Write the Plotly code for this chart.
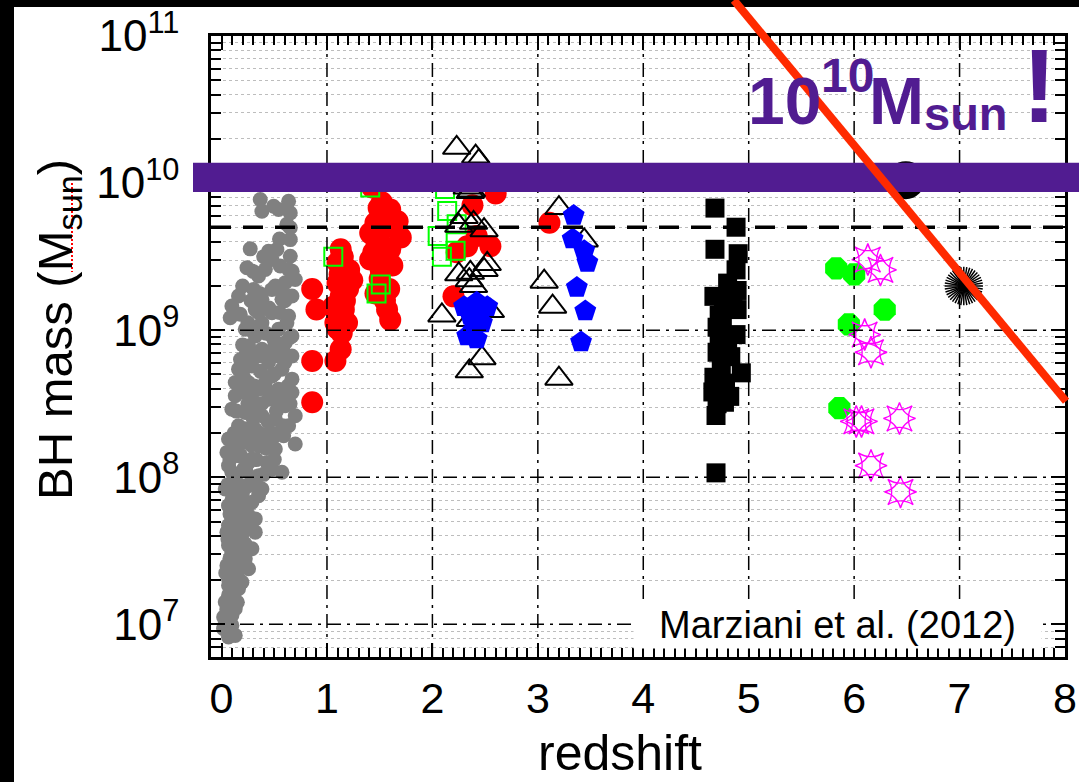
import numpy as np
import plotly.graph_objects as go

# ---------------- data (redshift, log10 BH mass) ----------------
gray_z = [0.367, 0.383, 0.494, 0.636, 0.652, 0.541, 0.652, 0.652, 0.272, 0.241, 0.446, 0.525, 0.652, 0.478,
          0.557, 0.351, 0.699, 0.636, 0.415, 0.161, 0.098, 0.177, 0.082, 0.304, 0.51, 0.604, 0.383, 0.573,
          0.668, 0.32, 0.478, 0.636, 0.383, 0.541, 0.668, 0.32, 0.225, 0.383, 0.51, 0.668, 0.288, 0.161,
          0.446, 0.573, 0.668, 0.13, 0.253, 0.415, 0.541, 0.668, 0.13, 0.288, 0.446, 0.604, 0.699, 0.098,
          0.225, 0.383, 0.51, 0.161, 0.32, 0.465, 0.589, 0.699, 0.066, 0.193, 0.351, 0.51, 0.051, 0.161,
          0.288, 0.43, 0.573, 0.066, 0.209, 0.351, 0.13, 0.256, 0.035, 0.383, 0.161, 0.288, 0.066, 0.193,
          0.32, 0.098, 0.225, 0.051, 0.161, 0.288, 0.098, 0.225, 0.051, 0.146, 0.193, 0.066, 0.114, 0.035,
          0.13, 0.051, 0.098, 0.019, 0.13, 0.066,
          0.478, 0.225, 0.478, 0.604, 0.256, 0.351, 0.541, 0.193, 0.478, 0.351, 0.225, 0.541, 0.32, 0.636,
          0.256, 0.415, 0.13, 0.256, 0.478, 0.098, 0.288, 0.193, 0.098, 0.351, 0.225, 0.13, 0.256, 0.161,
          0.066, 0.32, 0.13, 0.225, 0.066, 0.161, 0.098, 0.256, 0.066, 0.161, 0.066, 0.098, 0.035,
          0.20, 0.28, 0.36, 0.45, 0.55, 0.62, 0.25, 0.33, 0.42, 0.50, 0.58, 0.65, 0.20, 0.29, 0.46, 0.60,
          0.18, 0.37, 0.50, 0.63, 0.21, 0.31, 0.45, 0.57, 0.17, 0.25, 0.38, 0.52, 0.65, 0.14, 0.30, 0.44,
          0.58, 0.22, 0.36, 0.50, 0.12, 0.28, 0.42, 0.18, 0.33, 0.50, 0.08, 0.23, 0.40, 0.12, 0.30, 0.20,
          0.06, 0.24, 0.10, 0.28, 0.19, 0.08, 0.22, 0.06, 0.19, 0.08, 0.17, 0.04, 0.08, 0.15, 0.05, 0.09,
          0.02, 0.60, 0.67, 0.40, 0.30, 0.55, 0.62, 0.58, 0.35]
gray_logm = [9.888, 9.809, 9.843, 9.876, 9.797, 9.82, 9.696, 9.616, 9.553, 9.424, 9.537, 9.549, 9.503, 9.481,
             9.436, 9.368, 9.345, 9.413, 9.413, 9.232, 9.164, 9.108, 9.085, 9.277, 9.3, 9.322, 9.21, 9.21,
             9.232, 9.14, 9.119, 9.096, 9.051, 9.006, 8.96, 8.96, 8.825, 8.87, 8.893, 8.825, 8.757, 8.735,
             8.78, 8.735, 8.667, 8.644, 8.644, 8.644, 8.599, 8.576, 8.554, 8.531, 8.531, 8.486, 8.418, 8.463,
             8.441, 8.418, 8.395, 8.35, 8.327, 8.305, 8.282, 8.226, 8.26, 8.237, 8.214, 8.192, 8.169, 8.147,
             8.124, 8.101, 8.034, 8.079, 8.056, 8.011, 7.988, 7.943, 7.92, 7.92, 7.875, 7.83, 7.807, 7.762,
             7.717, 7.717, 7.649, 7.627, 7.559, 7.514, 7.491, 7.446, 7.401, 7.355, 7.287, 7.265, 7.197, 7.152,
             7.106, 7.061, 6.993, 6.971, 6.925, 6.914,
             9.277, 9.006, 8.96, 8.915, 8.893, 8.825, 8.825, 8.757, 8.689, 8.599, 8.576, 8.508, 8.463, 8.35,
             8.282, 8.237, 8.192, 8.101, 8.056, 8.034, 7.988, 7.943, 7.898, 7.875, 7.83, 7.785, 7.74, 7.694,
             7.672, 7.627, 7.604, 7.536, 7.536, 7.468, 7.401, 7.378, 7.31, 7.242, 7.197, 7.061, 7.016,
             9.30, 9.20, 9.25, 9.15, 9.12, 9.05, 9.05, 9.00, 8.98, 8.93, 8.88, 8.95, 8.90, 8.85, 8.85, 8.78,
             8.80, 8.72, 8.70, 8.62, 8.68, 8.62, 8.58, 8.55, 8.58, 8.50, 8.50, 8.45, 8.50, 8.45, 8.40, 8.38,
             8.35, 8.33, 8.30, 8.28, 8.30, 8.22, 8.20, 8.15, 8.12, 8.12, 8.12, 8.05, 8.02, 7.98, 7.95, 7.90,
             7.95, 7.80, 7.85, 7.68, 7.60, 7.75, 7.55, 7.58, 7.42, 7.45, 7.30, 7.35, 7.22, 7.15, 7.10, 6.95,
             7.05, 9.20, 9.40, 9.50, 9.40, 9.62, 9.72, 9.25, 9.12]

red_z = [0.86, 0.90, 0.86, 0.86, 1.13, 1.10, 1.21, 1.24, 1.10, 1.13, 1.06, 1.16, 1.19, 1.10, 1.13, 1.08,
         1.15, 1.20, 1.12, 1.17, 1.08, 1.14,
         1.49, 1.60, 1.46, 1.67, 1.70, 1.41, 1.51, 1.44, 1.60, 1.41, 1.62, 1.51, 1.59, 1.46, 1.57, 1.60, 1.43,
         1.55, 1.47, 1.56, 1.50, 1.55, 1.52,
         2.38, 2.60, 2.42, 2.55, 2.33, 2.23, 2.20, 3.11]
red_logm = [9.28, 9.14, 8.79, 8.51, 9.55, 9.46, 9.41, 9.34, 9.32, 9.23, 9.16, 9.14, 9.05, 9.01, 8.87, 8.79,
            9.50, 9.28, 9.38, 9.20, 9.05, 8.98,
            9.83, 9.82, 9.73, 9.74, 9.63, 9.66, 9.59, 9.53, 9.55, 9.48, 9.44, 9.41, 9.28, 9.25, 9.14, 9.07, 9.97,
            9.70, 9.60, 9.45, 9.35, 9.20, 9.87,
            9.85, 9.93, 9.64, 9.57, 9.57, 9.53, 9.23, 9.73]

gsq_z = [1.06, 1.51, 1.47, 1.41, 2.14, 2.23, 2.05, 2.09, 2.22, 2.12]
gsq_logm = [9.50, 9.31, 9.25, 9.97, 9.81, 9.72, 9.64, 9.50, 9.54, 9.96]

tri_z = [2.23, 2.41, 2.44, 2.36, 2.30, 2.39, 2.25, 2.49, 2.52, 2.49, 2.25, 2.36, 2.35, 2.39, 2.55, 2.09,
         2.36, 2.47, 2.35, 3.06, 3.14, 3.20, 3.20, 3.44, 2.33, 2.37]
tri_logm = [10.24, 10.18, 10.15, 9.94, 9.77, 9.73, 9.71, 9.68, 9.45, 9.41, 9.38, 9.39, 9.34, 9.30, 9.13, 9.10,
            9.07, 8.81, 8.72, 9.33, 9.16, 8.67, 9.83, 9.61, 9.97, 9.95]

blue_z = [2.30, 2.42, 2.52, 2.36, 2.47, 2.39, 2.33, 2.42, 2.38, 2.45, 2.40,
          3.34, 3.33, 3.44, 3.47, 3.37, 3.45, 3.41]
blue_logm = [9.16, 9.19, 9.16, 9.10, 9.05, 9.00, 8.96, 8.94, 9.13, 9.10, 9.04,
             9.78, 9.62, 9.54, 9.46, 9.29, 9.13, 8.92]

bsq_z = [4.68, 4.88, 4.68, 4.90, 4.88, 4.80, 4.67, 4.89, 4.89, 4.72, 4.70, 4.88, 4.72, 4.70, 4.83, 4.93,
         4.67, 4.78, 4.66, 4.77, 4.69, 4.69, 4.75, 4.80, 4.74, 4.72, 4.85, 4.76, 4.70, 4.82]
bsq_logm = [9.83, 9.70, 9.55, 9.52, 9.41, 9.32, 9.23, 9.27, 9.14, 9.10, 9.02, 8.97, 8.96, 8.85, 8.82, 8.71,
            8.68, 8.64, 8.58, 8.51, 8.42, 8.03, 9.05, 8.90, 8.75, 8.62, 9.20, 9.20, 8.50, 8.55]

oct_z = [5.83, 6.00, 6.29, 5.95, 5.86]
oct_logm = [9.42, 9.38, 9.14, 9.04, 8.47]

star_z = [6.13, 6.25, 6.10, 6.16, 6.02, 6.07, 6.43, 6.16, 6.44]
star_logm = [9.48, 9.41, 8.97, 8.85, 8.38, 8.38, 8.40, 8.08, 7.90]

burst_z, burst_logm = [7.04], [9.30]
ring_z, ring_logm = [6.49], [10.02]

limit_line_z = [4.86, 8.01]
limit_line_logm = [11.244, 8.517]

band_logm = [9.94, 10.138]
dashed_logm = 9.699  # 5e9
ref_note = "Marziani et al. (2012)"

x_ticks = [0, 1, 2, 3, 4, 5, 6, 7, 8]
y_decades = [7, 8, 9, 10, 11]

# ---------------- layout geometry ----------------
W, H = 1079, 782
L, R, T, B = 211, 14, 36, 125
PW, PH = W - L - R, H - T - B
XR = [-0.1, 8.0]
YR = [float(np.log10(6e6)), 11.0]
FONT = "Liberation Sans, Arial, sans-serif"
PURPLE = "#511C91"


def pxx(px):
    return (px - L) / PW


def pxy(py):
    return (H - B - py) / PH


def dx(z):
    return (z - XR[0]) / (XR[1] - XR[0])


def dy(lm):
    return (lm - YR[0]) / (YR[1] - YR[0])


def pw(v):
    return [10 ** a for a in v]


fig = go.Figure()


def add(z, lm, symbol, size, color, open_=False, lw=2):
    if open_:
        marker = dict(symbol=symbol, size=size, color=color, line=dict(color=color, width=lw))
    else:
        marker = dict(symbol=symbol, size=size, color=color, line=dict(width=0))
    fig.add_trace(go.Scatter(x=z, y=pw(lm), mode="markers", marker=marker, showlegend=False,
                             hoverinfo="skip", cliponaxis=False))


add(gray_z, gray_logm, "circle", 15, "#808080")
add(red_z, red_logm, "circle", 22, "#FF0000")
add(gsq_z, gsq_logm, "square-open", 18, "#00FF00", True, 2)
add(tri_z, tri_logm, "triangle-up-open", 24, "#000000", True, 2)
add(blue_z, blue_logm, "pentagon", 23, "#0000FF")
add(bsq_z, bsq_logm, "square", 19, "#000000")
add(oct_z, oct_logm, "octagon", 24, "#00FF00")
add(star_z, star_logm, "star-square-open", 23, "#FF00FF", True, 1.3)
add(star_z, star_logm, "star-diamond-open", 23, "#FF00FF", True, 1.3)
for ang in [0, 9, 18, 27, 36]:
    fig.add_trace(go.Scatter(x=burst_z, y=pw(burst_logm), mode="markers", showlegend=False, hoverinfo="skip",
                             marker=dict(symbol="asterisk-open", size=32, angle=ang, color="black",
                                         line=dict(color="black", width=1.5))))
add(ring_z, ring_logm, "circle", 38, "#000000")

# ---------------- shapes ----------------
shapes = []
# black frame bands
shapes.append(dict(type="rect", xref="paper", yref="paper", x0=pxx(0), x1=pxx(14), y0=pxy(H), y1=pxy(0),
                   fillcolor="black", line=dict(width=0), layer="above"))
shapes.append(dict(type="rect", xref="paper", yref="paper", x0=pxx(0), x1=pxx(W), y0=pxy(7), y1=pxy(0),
                   fillcolor="black", line=dict(width=0), layer="above"))
# major dash-dot grid (drawn over markers)
GRID_DASH = "14px,6px,3px,6px"
for xv in x_ticks[1:-1]:
    shapes.append(dict(type="line", xref="paper", yref="paper", x0=dx(xv), x1=dx(xv), y0=0, y1=1,
                       line=dict(color="black", width=1.5, dash=GRID_DASH), layer="above"))
for yv in y_decades[:-1]:
    shapes.append(dict(type="line", xref="paper", yref="paper", x0=0, x1=1, y0=dy(yv), y1=dy(yv),
                       line=dict(color="black", width=1.5, dash=GRID_DASH), layer="above"))
# dashed 5e9 line
shapes.append(dict(type="line", xref="paper", yref="paper", x0=0, x1=1, y0=dy(dashed_logm), y1=dy(dashed_logm),
                   line=dict(color="black", width=3.5, dash="20px,12px"), layer="above"))
# purple 1e10 band
shapes.append(dict(type="rect", xref="paper", yref="paper", x0=pxx(193), x1=pxx(W), y0=dy(band_logm[0]),
                   y1=dy(band_logm[1]), fillcolor=PURPLE, line=dict(width=0), layer="above"))
# red line
shapes.append(dict(type="line", xref="paper", yref="paper", x0=dx(limit_line_z[0]), x1=dx(limit_line_z[1]),
                   y0=dy(limit_line_logm[0]), y1=dy(limit_line_logm[1]),
                   line=dict(color="#FF2A00", width=8), layer="above"))
# red dotted underline under "Msun"
shapes.append(dict(type="line", xref="paper", yref="paper", x0=pxx(72), x1=pxx(72), y0=pxy(183), y1=pxy(272),
                   line=dict(color="#FF0000", width=2, dash="2px,2px"), layer="above"))

# ---------------- annotations ----------------
ann = []
ann.append(dict(text="BH mass (M<sub>sun</sub>)", textangle=-90, xref="paper", yref="paper",
                x=pxx(58), y=pxy(330), xanchor="center", yanchor="middle", showarrow=False,
                font=dict(family=FONT, size=49, color="black")))
ann.append(dict(text="redshift", xref="paper", yref="paper", x=pxx(620), y=pxy(753),
                xanchor="center", yanchor="middle", showarrow=False,
                font=dict(family=FONT, size=50, color="black")))
ann.append(dict(text=ref_note, xref="paper", yref="paper", x=pxx(837), y=pxy(625),
                xanchor="center", yanchor="middle", showarrow=False, bgcolor="white",
                width=405, height=44, font=dict(family=FONT, size=38, color="black")))
for txt, xpx, ypx, size, anchor in [("10", 746, 101, 66, "left"), ("10", 819, 76, 48, "left"),
                                     ("M", 867, 101, 66, "left"), ("sun", 922, 113, 47, "left"),
                                     ("!", 1039, 86, 104, "center")]:
    ann.append(dict(text="<b>" + txt + "</b>", xref="paper", yref="paper", x=pxx(xpx), y=pxy(ypx),
                    xanchor=anchor, yanchor="middle", showarrow=False,
                    font=dict(family=FONT, size=size, color=PURPLE)))

minor_y = [k * 10.0 ** e for e in range(6, 11) for k in range(2, 10) if 6e6 <= k * 10.0 ** e < 1e11]

fig.update_layout(
    width=W, height=H, autosize=False,
    margin=dict(l=L, r=R, t=T, b=B, pad=0, autoexpand=False),
    paper_bgcolor="white", plot_bgcolor="white",
    shapes=shapes, annotations=ann, showlegend=False,
    xaxis=dict(range=XR, tickmode="array", tickvals=x_ticks, ticktext=[str(v) for v in x_ticks],
               automargin=False,
               ticks="inside", ticklen=14, tickwidth=2, tickcolor="black",
               showline=True, linewidth=2.5, linecolor="black", mirror="allticks",
               showgrid=False, zeroline=False, ticklabelstandoff=2,
               tickfont=dict(family=FONT, size=43, color="black"),
               minor=dict(dtick=0.1, tick0=0, ticks="inside", ticklen=9, tickwidth=1.5, tickcolor="black",
                          showgrid=False)),
    yaxis=dict(type="log", range=YR, tickmode="array", tickvals=[10.0 ** d for d in y_decades],
               ticktext=["10<sup>%d</sup>" % d for d in y_decades],
               automargin=False,
               ticks="inside", ticklen=14, tickwidth=2, tickcolor="black",
               showline=True, linewidth=2.5, linecolor="black", mirror="allticks",
               showgrid=False, zeroline=False, ticklabelstandoff=20,
               tickfont=dict(family=FONT, size=44, color="black"),
               minor=dict(tickmode="array", tickvals=minor_y, ticks="inside", ticklen=10, tickwidth=1.5,
                          tickcolor="black", showgrid=True, gridcolor="#BDBDBD", gridwidth=1.2,
                          griddash="dot")),
)

fig.write_html("out.html")
